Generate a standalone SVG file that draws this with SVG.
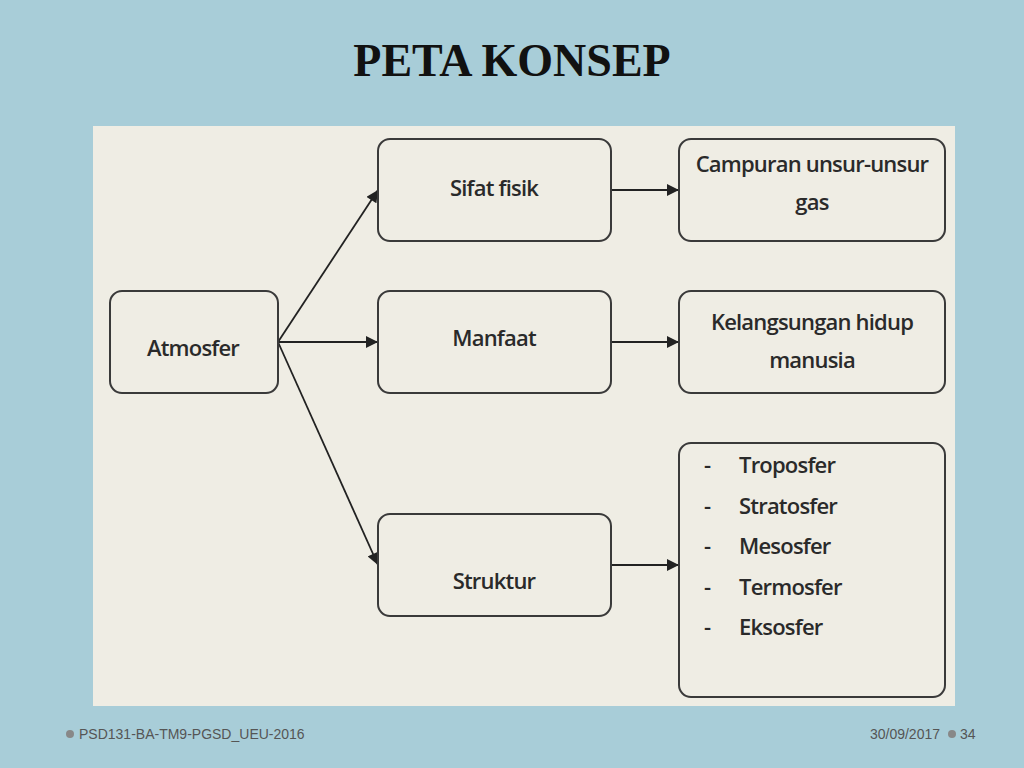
<svg xmlns="http://www.w3.org/2000/svg" width="1024" height="768" viewBox="0 0 1024 768">
<style>
.b{fill:#efede4;stroke:#3a3a3a;stroke-width:2}
.t{font-family:"Open Sans",sans-serif;font-weight:600;font-size:22px;fill:#2a2a2a;text-anchor:middle;letter-spacing:-0.8px}
.l{font-family:"Open Sans",sans-serif;font-weight:600;font-size:22px;fill:#2a2a2a;letter-spacing:-0.8px}
.c{stroke:#222;stroke-width:1.8;fill:none;marker-end:url(#a)}
.f{font-family:"Liberation Sans",sans-serif;font-size:14px;fill:#555}
</style>
<defs><marker id="a" viewBox="0 0 10 10" refX="10" refY="5" markerWidth="13" markerHeight="12" markerUnits="userSpaceOnUse" orient="auto"><path d="M0,0L10,5L0,10z" fill="#222"/></marker></defs>
<rect width="1024" height="768" fill="#a8cdd8"/>
<text x="512" y="76" font-family="Liberation Serif,serif" font-weight="bold" font-size="46" text-anchor="middle" fill="#111">PETA KONSEP</text>
<rect x="93" y="126" width="862" height="580" fill="#efede4"/>
<g id="connectors">
<path class="c" d="M278,342L378,190"/>
<path class="c" d="M278,342L378,342"/>
<path class="c" d="M278,342L378,565"/>
<path class="c" d="M611,190L679,190"/>
<path class="c" d="M611,342L679,342"/>
<path class="c" d="M611,565L679,565"/>
</g>
<g id="atmosfer"><rect class="b" x="110" y="291" width="168" height="102" rx="12"/><text class="t" x="193" y="356">Atmosfer</text></g>
<g id="sifat"><rect class="b" x="378" y="139" width="233" height="102" rx="12"/><text class="t" x="494" y="196">Sifat fisik</text></g>
<g id="manfaat"><rect class="b" x="378" y="291" width="233" height="102" rx="12"/><text class="t" x="494" y="346">Manfaat</text></g>
<g id="struktur"><rect class="b" x="378" y="514" width="233" height="102" rx="12"/><text class="t" x="494" y="589">Struktur</text></g>
<g id="campuran"><rect class="b" x="679" y="139" width="266" height="102" rx="12"/><text class="t" x="812" y="172">Campuran unsur-unsur</text><text class="t" x="812" y="210">gas</text></g>
<g id="kelangsungan"><rect class="b" x="679" y="291" width="266" height="102" rx="12"/><text class="t" x="812" y="330">Kelangsungan hidup</text><text class="t" x="812" y="368">manusia</text></g>
<g id="lapisan"><rect class="b" x="679" y="443" width="266" height="254" rx="12"/>
<text class="l" x="704" y="473" font-weight="bold">-</text><text class="l" x="739" y="473">Troposfer</text>
<text class="l" x="704" y="514" font-weight="bold">-</text><text class="l" x="739" y="514">Stratosfer</text>
<text class="l" x="704" y="554" font-weight="bold">-</text><text class="l" x="739" y="554">Mesosfer</text>
<text class="l" x="704" y="595" font-weight="bold">-</text><text class="l" x="739" y="595">Termosfer</text>
<text class="l" x="704" y="635" font-weight="bold">-</text><text class="l" x="739" y="635">Eksosfer</text></g>
<circle cx="70" cy="734" r="4" fill="#888"/>
<text class="f" x="79" y="739">PSD131-BA-TM9-PGSD_UEU-2016</text>
<text class="f" x="940" y="739" text-anchor="end">30/09/2017</text>
<circle cx="952" cy="734" r="4" fill="#888"/>
<text class="f" x="960" y="739">34</text>
</svg>
